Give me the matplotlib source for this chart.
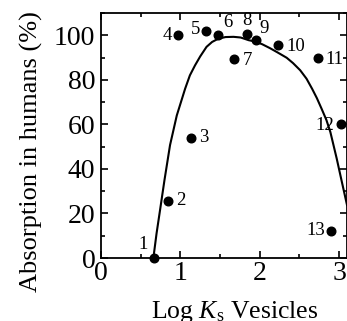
import matplotlib
matplotlib.use("Agg")
import matplotlib.pyplot as plt
from matplotlib.ticker import MultipleLocator

plt.rcParams['font.family'] = ['Liberation Serif', 'DejaVu Serif']
plt.rcParams['mathtext.fontset'] = 'custom'
plt.rcParams['mathtext.rm'] = 'Liberation Serif'
plt.rcParams['mathtext.it'] = 'Liberation Serif:italic'

# measured compounds
log_ks = [0.67, 0.85, 1.13, 0.97, 1.32, 1.47, 1.68, 1.84, 1.95, 2.23, 2.74, 3.03, 2.90]
absorption = [0, 25.6, 54, 100, 102, 100, 89.4, 100.4, 97.8, 95.8, 90, 60, 12.1]
point_labels = ['1', '2', '3', '4', '5', '6', '7', '8', '9', '10', '11', '12', '13']

# fitted curve
curve_x = [0.66, 0.70, 0.744, 0.80, 0.87, 0.955, 1.06, 1.12, 1.185, 1.25, 1.33, 1.40,
           1.48, 1.57, 1.67, 1.76, 1.86, 1.94, 2.03, 2.13, 2.22, 2.34, 2.42, 2.51,
           2.59, 2.66, 2.72, 2.78, 2.84, 2.89, 2.97, 3.035, 3.10]
curve_y = [0, 11, 21.5, 35, 50.7, 64, 76, 82, 86.5, 90.5, 94.8, 97,
           98.5, 99.2, 99.3, 99, 97.8, 97.2, 96, 94.2, 92.4, 89.9, 87.5, 84.3,
           80.5, 76, 71.8, 67, 62, 56.6, 44.7, 34.2, 23.8]

# label placement (pixel offsets, alignment)
offsets = [(-6, 5, 'right', 'bottom'), (8, 0, 'left', 'center'), (8, 0, 'left', 'center'),
           (-6, 0, 'right', 'center'), (-5, 1, 'right', 'center'), (6, 4, 'left', 'bottom'),
           (8, -2, 'left', 'center'), (0, 5, 'center', 'bottom'), (4, 3, 'left', 'bottom'),
           (8, -2, 'left', 'center'), (7, -2, 'left', 'center'), (-7, -1, 'right', 'center'),
           (-6, 1, 'right', 'center')]

fig = plt.figure(figsize=(3.47, 3.21), dpi=100)
ax = fig.add_axes([101/347, 63/321, 246/347, 245/321])

ax.plot(curve_x, curve_y, color='black', lw=1.5)
ax.plot(log_ks, absorption, 'o', color='black', ms=6.2, clip_on=False, zorder=3)

for x, y, lab, (dx, dy, ha, va) in zip(log_ks, absorption, point_labels, offsets):
    ax.annotate(lab, (x, y), xytext=(dx, dy), textcoords='offset pixels',
                ha=ha, va=va, fontsize=13.5, annotation_clip=False)

ax.set_xlim(0, 3.1)
ax.set_ylim(0, 110)
ax.xaxis.set_major_locator(MultipleLocator(1))
ax.xaxis.set_minor_locator(MultipleLocator(0.5))
ax.yaxis.set_major_locator(MultipleLocator(20))
ax.yaxis.set_minor_locator(MultipleLocator(10))
ax.tick_params(which='both', direction='in', top=True, right=True, width=1.2)
ax.tick_params(which='major', length=5, labelsize=20)
ax.tick_params(axis='x', which='major', pad=2.5)
ax.tick_params(axis='y', which='major', pad=4)
ax.tick_params(which='minor', length=3)
for s in ax.spines.values():
    s.set_linewidth(1.3)

ax.set_ylabel("Absorption in humans (%)", fontsize=19)
ax.yaxis.set_label_coords(-0.236, 0.435)
ax.set_xlabel(r"Log $K_{\rm s}$ Vesicles", fontsize=18.5)
ax.xaxis.set_label_coords(0.545, -0.167)

fig.savefig("out.png", dpi=100)
